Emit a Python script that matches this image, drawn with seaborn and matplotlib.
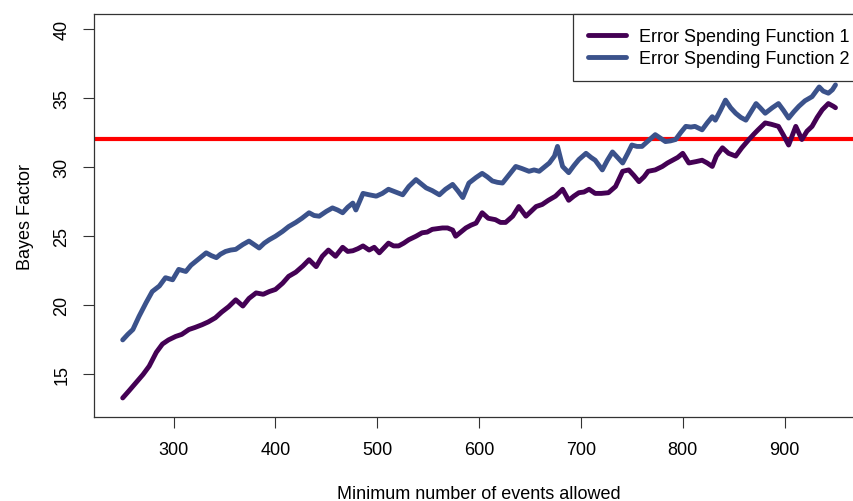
# ==========================================================
# Bayes Factor vs minimum number of events allowed
# Two error spending functions, threshold at BF = 32
# ==========================================================

import pandas as pd
import matplotlib.pyplot as plt
import seaborn as sns


# ----------------------------------------------------------
# 1. Data
# ----------------------------------------------------------
events_1 = [250, 256, 263, 270, 276, 283, 289, 295, 302, 308, 315, 321, 328,
            334, 341, 347, 354, 361, 368, 374, 381, 388, 394, 400, 407, 413,
            420, 427, 433, 440, 446, 452, 459, 466, 471, 476, 481, 486, 492,
            497, 502, 511, 516, 521, 526, 531, 538, 544, 549, 554, 559, 564,
            569, 574, 577, 582, 587, 592, 597, 603, 609, 616, 621, 626, 633,
            639, 646, 651, 656, 662, 668, 675, 682, 688, 693, 698, 703, 708,
            714, 720, 727, 734, 741, 747, 752, 757, 762, 766, 773, 780, 785,
            790, 795, 800, 806, 813, 819, 824, 829, 833, 839, 845, 852, 858,
            865, 870, 874, 881, 887, 894, 899, 904, 911, 917, 922, 927, 932,
            937, 943, 948, 950]
bf_1 = [13.3, 13.8, 14.4, 15.0, 15.6, 16.6, 17.2, 17.5, 17.75, 17.9, 18.25,
        18.4, 18.6, 18.8, 19.1, 19.5, 19.9, 20.4, 19.95, 20.5, 20.9, 20.8,
        21.0, 21.15, 21.6, 22.1, 22.4, 22.85, 23.3, 22.8, 23.55, 24.0, 23.55,
        24.2, 23.9, 23.95, 24.1, 24.3, 24.0, 24.2, 23.8, 24.5, 24.3, 24.3,
        24.5, 24.75, 25.0, 25.25, 25.3, 25.5, 25.55, 25.6, 25.6, 25.45, 25.0,
        25.3, 25.6, 25.8, 25.95, 26.7, 26.3, 26.2, 26.0, 26.0, 26.45, 27.15,
        26.45, 26.8, 27.15, 27.3, 27.6, 27.9, 28.4, 27.6, 27.9, 28.15, 28.2,
        28.4, 28.1, 28.1, 28.15, 28.6, 29.7, 29.8, 29.4, 28.95, 29.3, 29.7,
        29.8, 30.05, 30.3, 30.5, 30.7, 31.0, 30.3, 30.4, 30.5, 30.3, 30.05,
        30.8, 31.4, 31.0, 30.8, 31.4, 32.0, 32.4, 32.7, 33.2, 33.1, 32.95,
        32.3, 31.6, 32.95, 32.0, 32.6, 32.95, 33.6, 34.15, 34.6, 34.4, 34.3]

events_2 = [250, 255, 260, 266, 273, 279, 286, 292, 299, 305, 312, 317, 322,
            327, 332, 337, 342, 346, 351, 356, 361, 368, 374, 379, 384, 389,
            394, 400, 407, 413, 420, 426, 433, 438, 443, 450, 456, 461, 466,
            471, 476, 479, 486, 492, 499, 505, 511, 518, 525, 531, 538, 543,
            548, 554, 561, 567, 574, 579, 584, 590, 597, 603, 608, 613, 618,
            623, 630, 636, 642, 649, 654, 659, 664, 669, 674, 677, 682, 688,
            693, 698, 705, 710, 714, 721, 726, 731, 736, 741, 746, 750, 755,
            760, 766, 773, 778, 783, 788, 793, 798, 803, 808, 812, 819, 824,
            829, 832, 837, 842, 847, 852, 857, 862, 867, 872, 876, 881, 888,
            894, 899, 904, 909, 914, 920, 927, 934, 938, 943, 947, 950]
bf_2 = [17.5, 17.9, 18.25, 19.2, 20.2, 21.0, 21.4, 22.0, 21.85, 22.6, 22.45,
        22.9, 23.2, 23.5, 23.8, 23.6, 23.45, 23.7, 23.9, 24.0, 24.05, 24.4,
        24.65, 24.4, 24.15, 24.5, 24.75, 25.0, 25.35, 25.7, 26.0, 26.3, 26.7,
        26.5, 26.45, 26.8, 27.05, 26.9, 26.7, 27.1, 27.4, 26.9, 28.1, 28.0,
        27.9, 28.1, 28.4, 28.2, 28.0, 28.6, 29.1, 28.8, 28.5, 28.3, 28.0,
        28.4, 28.75, 28.3, 27.8, 28.85, 29.25, 29.55, 29.3, 29.0, 28.9, 28.85,
        29.5, 30.05, 29.9, 29.7, 29.8, 29.7, 30.0, 30.3, 30.8, 31.5, 30.05,
        29.6, 30.1, 30.55, 31.0, 30.7, 30.5, 29.8, 30.5, 31.1, 30.7, 30.3,
        31.0, 31.6, 31.5, 31.5, 31.9, 32.35, 32.1, 31.85, 31.9, 32.0, 32.5,
        32.95, 32.9, 32.95, 32.7, 33.2, 33.65, 33.4, 34.1, 34.85, 34.3, 33.9,
        33.6, 33.4, 34.0, 34.6, 34.3, 33.9, 34.3, 34.6, 34.1, 33.55, 34.0,
        34.4, 34.8, 35.1, 35.8, 35.5, 35.35, 35.6, 35.95]

series_labels = ["Error Spending Function 1", "Error Spending Function 2"]
series_colors = ["#440154", "#3B528B"]
threshold = 32

x_ticks = [300, 400, 500, 600, 700, 800, 900]
y_ticks = [15, 20, 25, 30, 35, 40]


# ----------------------------------------------------------
# 2. Build long-format table
# ----------------------------------------------------------
def build_frame():

    df1 = pd.DataFrame({"events": events_1, "bf": bf_1,
                        "series": series_labels[0]})
    df2 = pd.DataFrame({"events": events_2, "bf": bf_2,
                        "series": series_labels[1]})

    return pd.concat([df1, df2], ignore_index=True)


# ----------------------------------------------------------
# 3. Plot
# ----------------------------------------------------------
def make_plot(df):

    sns.set_style("white")
    plt.rcParams["font.family"] = ["Liberation Sans", "DejaVu Sans"]
    plt.rcParams["text.color"] = "black"
    plt.rcParams["xtick.color"] = "black"
    plt.rcParams["ytick.color"] = "black"
    plt.rcParams["axes.labelcolor"] = "black"

    fig = plt.figure(figsize=(8.54, 5.02), dpi=100)
    ax = fig.add_axes([0.1103, 0.1673, 0.9014, 0.8028])

    ax.axhline(threshold, color="#FF0000", linewidth=3, zorder=1)

    sns.lineplot(
        data=df,
        x="events",
        y="bf",
        hue="series",
        palette=dict(zip(series_labels, series_colors)),
        linewidth=3.5,
        sort=False,
        ax=ax,
        zorder=2
    )

    ax.set_xlim(222, 978)
    ax.set_ylim(11.92, 41.08)
    ax.set_xticks(x_ticks)
    ax.set_yticks(y_ticks)

    ax.tick_params(axis="both", direction="out", length=8, width=0.8,
                   color="#333333", labelsize=13, pad=9,
                   bottom=True, left=True)
    ax.tick_params(axis="y", labelrotation=90)
    for lab in ax.get_yticklabels():
        lab.set_va("center")

    for spine in ax.spines.values():
        spine.set_color("#333333")
        spine.set_linewidth(0.9)

    ax.set_xlabel("Minimum number of events allowed", fontsize=13,
                  labelpad=20)
    ax.set_ylabel("Bayes Factor", fontsize=13, labelpad=14)

    leg = ax.legend(
        loc="upper right",
        borderaxespad=0,
        fancybox=False,
        edgecolor="#333333",
        framealpha=1,
        fontsize=13,
        handlelength=2.1,
        handletextpad=0.75,
        borderpad=0.8,
        labelspacing=0.25
    )
    leg.get_frame().set_linewidth(0.9)
    for line in leg.get_lines():
        line.set_linewidth(3.5)

    fig.savefig("out.png", dpi=100)
    plt.close(fig)


# ----------------------------------------------------------
# 4. Main
# ----------------------------------------------------------
def main():

    df = build_frame()
    make_plot(df)


if __name__ == "__main__":
    main()
